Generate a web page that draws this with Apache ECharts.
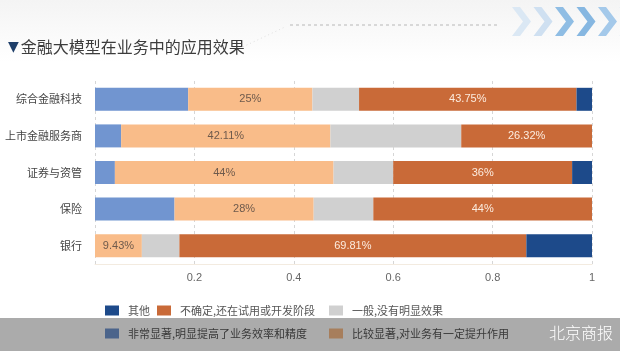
<!DOCTYPE html>
<html>
<head>
<meta charset="utf-8">
<script src="https://cdn.jsdelivr.net/npm/echarts@6/dist/echarts.min.js"></script>
<style>
  html, body { margin: 0; padding: 0; background: #fff; }
  #chart { width: 620px; height: 351px; }
</style>
</head>
<body>
<div id="chart"></div>
<script>
// 行业类别
const categories = ['综合金融科技', '上市金融服务商', '证券与资管', '保险', '银行'];
// 各选项占比
const veryValues = [0.1875, 0.0526, 0.04, 0.16, 0];
const fairlyValues = [0.25, 0.4211, 0.44, 0.28, 0.0943];
const normalValues = [0.0938, 0.2632, 0.12, 0.12, 0.0755];
const unsureValues = [0.4375, 0.2632, 0.36, 0.44, 0.6981];
const otherValues = [0.0313, 0, 0.04, 0, 0.1321];
const xTicks = [0, 0.2, 0.4, 0.6, 0.8, 1];

const seriesNames = [
  '非常显著,明显提高了业务效率和精度',
  '比较显著,对业务有一定提升作用',
  '一般,没有明显效果',
  '不确定,还在试用或开发阶段',
  '其他'
];
const colors = ['#7195d0', '#f9bc89', '#d0d0d0', '#c96a38', '#1d4a8a'];

const chart = echarts.init(document.getElementById('chart'));

const pct = v => parseFloat((v * 100).toFixed(2)) + '%';

const makeSeries = (idx, data, label) => ({
  name: seriesNames[idx],
  type: 'bar',
  stack: 'total',
  barWidth: 23,
  data: data,
  itemStyle: { color: colors[idx] },
  label: label ? Object.assign({
    show: true,
    position: 'inside',
    fontSize: 11,
    fontFamily: 'Liberation Sans, Arial, sans-serif',
    formatter: p => pct(p.value)
  }, label) : { show: false }
});

// 单项图例，按参考图的两行排列
const legendItem = (name, left, top) => ({
  data: [name],
  left: left,
  top: top,
  padding: 0,
  icon: 'rect',
  itemWidth: 14,
  itemHeight: 10,
  selectedMode: false,
  textStyle: { fontSize: 11, color: '#555', padding: [0, 0, 0, 4],
    fontFamily: 'Noto Sans CJK SC, sans-serif' }
});

// 右上角箭头装饰
const chevronColors = ['#dbe8f4', '#cfe0f1', '#8fbde4', '#86b7e1', '#a4c9ea', '#c9def1'];
const chevrons = chevronColors.map((c, i) => {
  const x0 = 512 + i * 21.5, y0 = 7, y1 = 36, w = 19, a = 8;
  const ym = (y0 + y1) / 2;
  return {
    type: 'polygon',
    shape: { points: [[x0, y0], [x0 + a, y0], [x0 + w, ym], [x0 + a, y1], [x0, y1], [x0 + w - a, ym]] },
    style: { fill: c },
    z: 1
  };
});

const option = {
  backgroundColor: '#ffffff',
  title: {
    text: '{t|▼}{m|金融大模型在业务中的应用效果}',
    left: 3,
    top: 34,
    textStyle: {
      fontWeight: 'normal',
      rich: {
        t: { color: '#1f3f6a', fontSize: 14, fontWeight: 'normal', fontFamily: 'DejaVu Sans, sans-serif', padding: [0, 2, 0, 0] },
        m: { color: '#3c3c3c', fontSize: 16, fontWeight: 'normal', fontFamily: 'Noto Sans CJK SC, sans-serif' }
      }
    }
  },
  graphic: [
    {
      type: 'rect',
      shape: { x: 0, y: 0, width: 620, height: 62 },
      style: {
        fill: new echarts.graphic.LinearGradient(0, 0, 0, 1, [
          { offset: 0, color: '#f4f4f4' },
          { offset: 1, color: '#ffffff' }
        ])
      },
      z: 0,
      silent: true
    },
    {
      type: 'line',
      shape: { x1: 290, y1: 25, x2: 497, y2: 25 },
      style: { stroke: '#b8b8b8', lineWidth: 1, lineDash: [3, 3] },
      z: 1
    },
    {
      type: 'line',
      shape: { x1: 232, y1: 52, x2: 285, y2: 27 },
      style: { stroke: '#e0e0e0', lineWidth: 1, lineDash: [1, 3] },
      z: 1
    },
    ...chevrons,
    {
      type: 'rect',
      shape: { x: 0, y: 318, width: 620, height: 33 },
      style: { fill: 'rgba(0,0,0,0.33)' },
      z: 100,
      silent: true
    },
    {
      type: 'text',
      left: 549,
      top: 325,
      style: {
        text: '北京商报',
        fill: '#ffffff',
        font: '300 16px "Noto Sans CJK SC", sans-serif'
      },
      z: 101
    }
  ],
  grid: { left: 95, right: 28, top: 81, bottom: 87 },
  xAxis: {
    type: 'value',
    min: xTicks[0],
    max: xTicks[xTicks.length - 1],
    interval: 0.2,
    axisLine: { show: true, lineStyle: { color: '#f3ebe0' } },
    axisTick: { show: false },
    axisLabel: {
      color: '#666',
      fontSize: 11,
      margin: 8,
      fontFamily: 'Liberation Sans, Arial, sans-serif',
      formatter: v => (v === 0 ? '' : String(parseFloat(v.toFixed(1))))
    },
    splitLine: { show: true, lineStyle: { color: '#d6d6d6', type: [3, 3] } }
  },
  yAxis: {
    type: 'category',
    data: categories,
    inverse: true,
    axisLine: { show: false },
    axisTick: { show: false },
    axisLabel: {
      color: '#444',
      fontSize: 11,
      margin: 13,
      fontFamily: 'Noto Sans CJK SC, sans-serif'
    }
  },
  legend: [
    legendItem(seriesNames[4], 105, 305),
    legendItem(seriesNames[3], 157, 305),
    legendItem(seriesNames[2], 329, 305),
    legendItem(seriesNames[0], 105, 328),
    legendItem(seriesNames[1], 329, 328)
  ],
  series: [
    makeSeries(0, veryValues, null),
    makeSeries(1, fairlyValues, { color: '#6e5a4c' }),
    makeSeries(2, normalValues, null),
    makeSeries(3, unsureValues, { color: '#fcecdf' }),
    makeSeries(4, otherValues, null)
  ]
};

chart.setOption(option);
</script>
</body>
</html>
